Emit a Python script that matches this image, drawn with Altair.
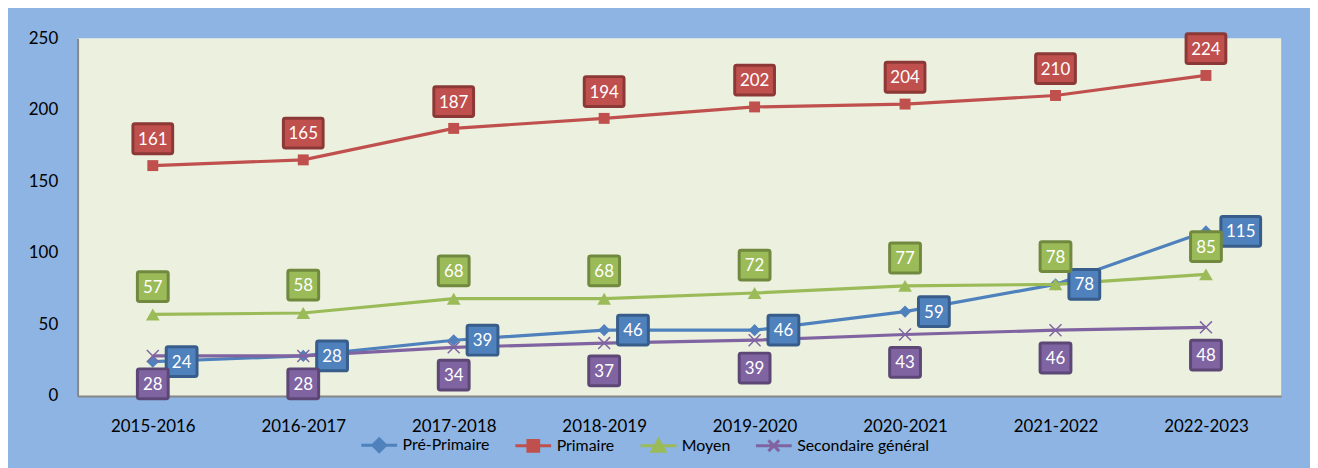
import altair as alt
import pandas as pd

years = ["2015-2016", "2016-2017", "2017-2018", "2018-2019",
         "2019-2020", "2020-2021", "2021-2022", "2022-2023"]
pre_primaire = [24, 28, 39, 46, 46, 59, 78, 115]
primaire = [161, 165, 187, 194, 202, 204, 210, 224]
moyen = [57, 58, 68, 68, 72, 77, 78, 85]
secondaire = [28, 28, 34, 37, 39, 43, 46, 48]
series_names = ["Pré-Primaire", "Primaire", "Moyen", "Secondaire général"]
series_values = [pre_primaire, primaire, moyen, secondaire]

rows = []
for name, vals in zip(series_names, series_values):
    for yr, v in zip(years, vals):
        rows.append({"series": name, "year": yr, "value": v, "label": str(v)})
df = pd.DataFrame(rows)

colors = ["#4F81BD", "#C0504D", "#9BBB59", "#8064A2"]
darks = ["#385D8A", "#8C3836", "#71893F", "#5C4776"]
shapes = ["diamond", "square", "triangle-up", "M-1,-1L1,1M-1,1L1,-1"]
msizes = [150, 121, 190, 144]
filled = [True, True, True, False]
# label offsets (dx for 2-digit, dx for 3-digit, dy)
offsets = [(29, 35, 0), (0, 0, -27), (0, 0, -28), (0, 0, 28)]

FONT = "Lato"

x_enc = alt.X("year:N", sort=years, scale=alt.Scale(type="point", padding=0.5),
              axis=alt.Axis(title=None, labelAngle=0, ticks=False, grid=False,
                            domainColor="#868686", domainWidth=2,
                            labelFont=FONT, labelFontSize=17, labelColor="#000000",
                            labelPadding=23))
y_enc = alt.Y("value:Q", scale=alt.Scale(domain=[0, 250], nice=False, zero=True),
              axis=alt.Axis(title=None, values=[0, 50, 100, 150, 200, 250], ticks=False,
                            grid=False, domainColor="#868686", domainWidth=2,
                            labelFont=FONT, labelFontSize=17, labelColor="#000000",
                            labelPadding=20))

base = alt.Chart(df)
layers = []
for i, name in enumerate(series_names):
    sub = base.transform_filter(alt.datum.series == name)
    layers.append(sub.mark_line(color=colors[i], strokeWidth=3.2).encode(x=x_enc, y=y_enc))
    if filled[i]:
        pm = sub.mark_point(shape=shapes[i], size=msizes[i], filled=True,
                            color=colors[i], opacity=1)
    else:
        pm = sub.mark_point(shape=shapes[i], size=msizes[i], filled=False,
                            color=colors[i], strokeWidth=1.5, opacity=1)
    layers.append(pm.encode(x=x_enc, y=y_enc))

for i, name in enumerate(series_names):
    dx2, dx3, dy = offsets[i]
    for wide in [False, True]:
        cond = (alt.datum.value >= 100) if wide else (alt.datum.value < 100)
        sub = base.transform_filter(alt.datum.series == name).transform_filter(cond)
        w = 40 if wide else 31
        dx = dx3 if wide else dx2
        layers.append(sub.mark_rect(width=w, height=30, xOffset=dx, yOffset=dy,
                                    fill=colors[i], stroke=darks[i], strokeWidth=3,
                                    cornerRadius=2).encode(x=x_enc, y=y_enc))
        layers.append(sub.mark_text(xOffset=dx, yOffset=dy + 1, color="white",
                                    font=FONT, fontSize=17, align="center",
                                    baseline="middle").encode(x=x_enc, y=y_enc,
                                                              text="label:N"))

legend_paths = [
    "M-1,0L1,0M0,-0.36L0.36,0L0,0.36L-0.36,0Z",
    "M-1,0L1,0M-0.3,-0.3L0.3,-0.3L0.3,0.3L-0.3,0.3Z",
    "M-1,0L1,0M0,-0.33L0.36,0.3L-0.36,0.3Z",
    "M-1,0L1,0M-0.3,-0.3L0.3,0.3M-0.3,0.3L0.3,-0.3",
]
leg = alt.Legend(title=None, orient="none", direction="horizontal",
                 legendX=284, legendY=390, symbolSize=1296, symbolStrokeWidth=3,
                 symbolOpacity=1, labelFont=FONT, labelFontSize=16,
                 labelColor="#000000", labelOffset=4, columnPadding=19)
legend_layer = base.mark_point(filled=True, opacity=0).encode(
    x=x_enc, y=y_enc,
    fill=alt.Fill("series:N", scale=alt.Scale(domain=series_names, range=colors), legend=leg),
    stroke=alt.Stroke("series:N", scale=alt.Scale(domain=series_names, range=colors), legend=leg),
    shape=alt.Shape("series:N", scale=alt.Scale(domain=series_names, range=legend_paths), legend=leg),
)
layers.append(legend_layer)

chart = alt.layer(*layers).properties(
    width=1211, height=360,
    background="#8DB4E2",
    padding={"left": 70, "top": 29, "right": 29, "bottom": 71},
    autosize=alt.AutoSizeParams(type="none"),
).configure_view(fill="#EBF1DE", strokeWidth=0)

chart.save("out.html", embed_options={"renderer": "svg", "actions": False})
